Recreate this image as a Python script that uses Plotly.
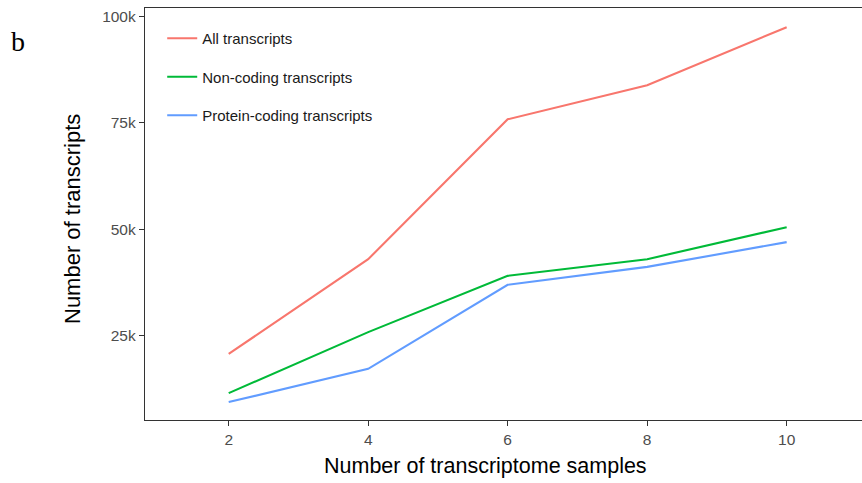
import plotly.graph_objects as go

samples = [2, 4, 6, 8, 10]
all_tx = [20800, 43000, 75800, 83800, 97400]
noncoding_tx = [11600, 25900, 39100, 43000, 50500]
protein_tx = [9500, 17300, 37000, 41200, 47000]

series_names = ["All transcripts", "Non-coding transcripts", "Protein-coding transcripts"]
series_colors = ["#F8766D", "#00BA38", "#619CFF"]

y_tickvals = [25000, 50000, 75000, 100000]
y_ticktext = ["25k", "50k", "75k", "100k"]
x_tickvals = [2, 4, 6, 8, 10]

fig = go.Figure()
for i, (name, vals, col) in enumerate(zip(series_names, [all_tx, noncoding_tx, protein_tx], series_colors)):
    fig.add_trace(go.Scatter(x=samples, y=vals, mode="lines", name=name,
                             legendgroup=f"g{i}",
                             line=dict(color=col, width=2.1)))

tickfont = "Liberation Sans, Arial, sans-serif"
L, T, B = 145, 8, 63
PW, PH = 862 - L, 483 - T - B

fig.update_layout(
    width=862, height=483,
    paper_bgcolor="white", plot_bgcolor="white",
    margin=dict(l=L, r=0, t=T, b=B, autoexpand=False),
    showlegend=True,
    legend=dict(x=0.024, y=1 - 14 / PH, xanchor="left", yanchor="top",
                bgcolor="rgba(0,0,0,0)", font=dict(family=tickfont, size=15, color="#1a1a1a"),
                traceorder="grouped", tracegroupgap=16, itemwidth=30),
    xaxis=dict(range=[0.8, 11.08], tickvals=x_tickvals, showgrid=False, zeroline=False,
               showline=True, linecolor="#333333", linewidth=1.3, mirror=True,
               ticks="outside", ticklen=5, tickcolor="#333333", tickwidth=1.2,
               tickfont=dict(family=tickfont, size=15.5, color="#4d4d4d")),
    yaxis=dict(range=[5300, 101900], tickvals=y_tickvals, ticktext=y_ticktext, showgrid=False,
               zeroline=False, showline=True, linecolor="#333333", linewidth=1.3, mirror=False,
               ticks="outside", ticklen=5, tickcolor="#333333", tickwidth=1.2,
               tickfont=dict(family=tickfont, size=15.5, color="#4d4d4d")),
    annotations=[
        dict(text="b", xref="paper", yref="paper", x=(18 - L) / PW, y=1 - (42 - T) / PH,
             xanchor="center", yanchor="middle", showarrow=False,
             font=dict(family="Liberation Serif, Times New Roman, serif", size=28, color="black")),
        dict(text="Number of transcriptome samples", xref="paper", yref="paper",
             x=(485 - L) / PW, y=1 - (466 - T) / PH, xanchor="center", yanchor="middle",
             showarrow=False,
             font=dict(family="Liberation Sans, Arial, sans-serif", size=21.5, color="black")),
        dict(text="Number of transcripts", xref="paper", yref="paper",
             x=(72 - L) / PW, y=1 - (219 - T) / PH, xanchor="center", yanchor="middle",
             showarrow=False, textangle=-90,
             font=dict(family="Liberation Sans, Arial, sans-serif", size=22, color="black")),
    ],
)

fig.write_html("out.html", config={"displayModeBar": False},
               post_script="document.body.style.margin='0';document.body.style.overflow='hidden';")
